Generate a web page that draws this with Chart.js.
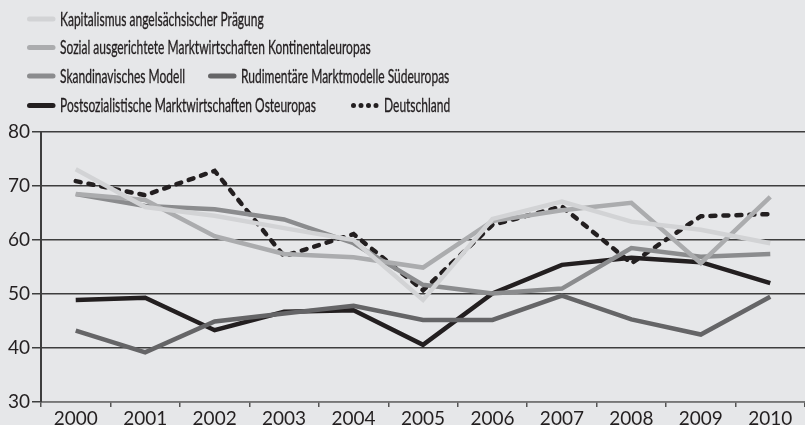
<!DOCTYPE html>
<html>
<head>
<meta charset="utf-8">
<script src="https://cdn.jsdelivr.net/npm/chart.js@4"></script>
<style>
  html, body { margin: 0; padding: 0; background: #e6e7e9; }
  #wrap { width: 805px; height: 425px; }
</style>
</head>
<body>
<div id="wrap"><canvas id="chart" width="805" height="425"></canvas></div>
<script>
const years = ['2000', '2001', '2002', '2003', '2004', '2005', '2006', '2007', '2008', '2009', '2010'];
const yTicks = [30, 40, 50, 60, 70, 80];

const kapitalismus = [73.1, 66.1, 64.5, 62.2, 60.0, 48.9, 63.9, 67.1, 63.4, 61.9, 59.4];
const sozial = [68.5, 67.4, 60.7, 57.4, 56.8, 54.9, 63.5, 65.5, 66.9, 55.7, 68.0];
const skandinavisch = [68.5, 66.3, 65.7, 63.8, 59.4, 51.7, 50.1, 51.0, 58.5, 56.9, 57.4];
const rudimentaer = [43.2, 39.2, 44.9, 46.4, 47.8, 45.2, 45.2, 49.7, 45.3, 42.5, 49.5];
const postsozialistisch = [48.9, 49.3, 43.3, 46.7, 47.0, 40.6, 50.1, 55.4, 56.7, 55.9, 52.0];
const deutschland = [70.9, 68.3, 72.8, 57.0, 61.1, 50.7, 62.8, 66.2, 55.7, 64.4, 64.8];

const seriesNames = [
  'Kapitalismus angelsächsischer Prägung',
  'Sozial ausgerichtete Marktwirtschaften Kontinentaleuropas',
  'Skandinavisches Modell',
  'Rudimentäre Marktmodelle Südeuropas',
  'Postsozialistische Marktwirtschaften Osteuropas',
  'Deutschland'
];
const seriesColors = ['#d2d3d5', '#abacae', '#8b8c8e', '#656567', '#231f20', '#231f20'];

const ink = '#231f20';

// legend placement: [swatch x, swatch y] per series
const legendSpots = [[27, 19], [27, 47.5], [27, 76], [208, 76], [27, 105.5], [351, 105.5]];

const legendPlugin = {
  id: 'rowLegend',
  afterDraw(chart) {
    const ctx = chart.ctx;
    chart.data.datasets.forEach((ds, i) => {
      const [x, y] = legendSpots[i];
      ctx.save();
      ctx.strokeStyle = ds.borderColor;
      ctx.lineWidth = 5;
      ctx.lineCap = 'round';
      if (ds.borderDash) ctx.setLineDash([0, 7.5]);
      ctx.beginPath();
      ctx.moveTo(x + 2.5, y);
      ctx.lineTo(x + 26, y);
      ctx.stroke();
      ctx.setLineDash([]);
      ctx.fillStyle = ink;
      ctx.strokeStyle = ink;
      ctx.lineWidth = 0.35;
      ctx.font = '20px Lato';
      ctx.textBaseline = 'alphabetic';
      ctx.translate(x + 33, y + 6.5);
      ctx.scale(0.6, 1);
      ctx.fillText(ds.label, 0, 0);
      ctx.strokeText(ds.label, 0, 0);
      ctx.restore();
    });
  }
};

function makeSet(i, values) {
  return {
    label: seriesNames[i],
    data: values,
    borderColor: seriesColors[i],
    backgroundColor: seriesColors[i],
    borderWidth: 4.5,
    pointRadius: 0,
    tension: 0,
    fill: false
  };
}

const datasets = [
  makeSet(0, kapitalismus),
  makeSet(1, sozial),
  makeSet(2, skandinavisch),
  makeSet(3, rudimentaer),
  makeSet(4, postsozialistisch),
  Object.assign(makeSet(5, deutschland), { borderDash: [5, 8], borderCapStyle: 'round' })
];

new Chart(document.getElementById('chart'), {
  type: 'line',
  data: { labels: years, datasets: datasets },
  plugins: [legendPlugin],
  options: {
    responsive: false,
    animation: false,
    layout: { padding: { top: 132, right: 0, left: 0, bottom: 0 } },
    plugins: {
      legend: { display: false },
      tooltip: { enabled: false }
    },
    scales: {
      x: {
        offset: true,
        afterFit: (s) => { s.height = 23; },
        grid: { offset: true, drawOnChartArea: false, tickLength: 5, color: '#555', lineWidth: 1.5 },
        border: { color: '#777', width: 1.5 },
        ticks: { color: ink, font: { family: 'Lato', size: 19 }, padding: 0, maxRotation: 0 }
      },
      y: {
        min: 30,
        max: 80,
        afterFit: (s) => { s.width = 41; },
        afterBuildTicks: (s) => { s.ticks = yTicks.map(v => ({ value: v })); },
        grid: { color: '#3e3e3e', lineWidth: 1.5, tickLength: 9 },
        border: { color: '#3e3e3e', width: 2 },
        ticks: { color: ink, font: { family: 'Lato', size: 19 }, padding: 2 }
      }
    }
  }
});
</script>
</body>
</html>
